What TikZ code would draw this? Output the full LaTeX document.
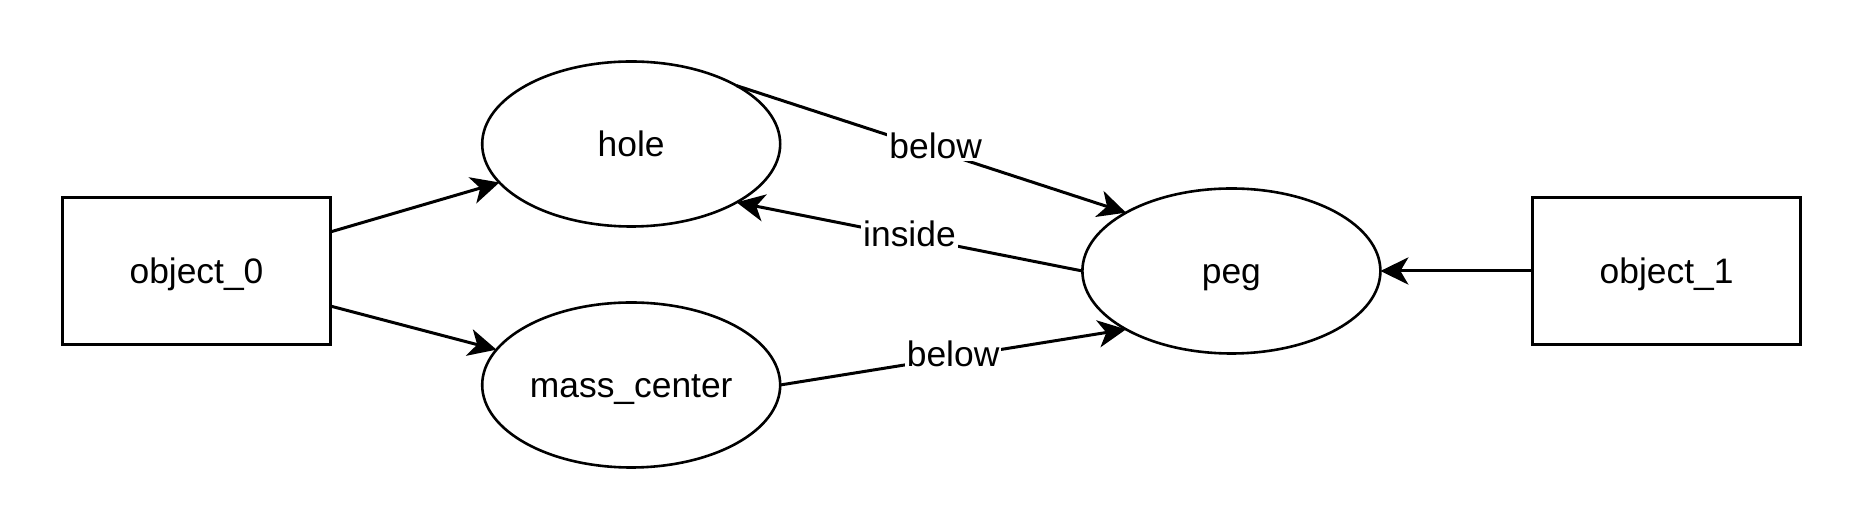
\documentclass[tikz,border=0pt]{standalone}
\usepackage{fontspec}
\setmainfont{Liberation Sans}
\usetikzlibrary{shapes.geometric,arrows.meta,positioning}

\begin{document}
\begin{tikzpicture}[
    font=\fontsize{17.7pt}{21pt}\selectfont,
    objbox/.style={rectangle, draw, line width=1.5pt, outer sep=0pt, text height=13pt, text depth=0pt, minimum width=134pt, minimum height=73.8pt},
    concept/.style={ellipse, draw, line width=1.3pt, inner sep=0pt, outer sep=0pt, text height=13pt, text depth=0pt, minimum width=149pt, minimum height=82.5pt},
    rel/.style={-{Stealth[length=14pt, width=13.6pt, inset=4pt]}, line width=1.5pt},
    lbl/.style={fill=white, inner sep=1pt, text height=13pt, text depth=0pt, yshift=1.7pt}
]

\useasboundingbox (-98.25pt,-128.5pt) rectangle (833.25pt,135.5pt);

\node[objbox] (obj0) {object\_0};
\node[concept, right=75.85pt of obj0, yshift=63.5pt] (hole) {hole};
\node[concept, below=38pt of hole] (masscenter) {mass\_center};
\node[concept, right=375.95pt of obj0] (peg) {peg};
\node[objbox, right=76.1pt of peg] (obj1) {object\_1};

\draw[rel] (obj0) -- (hole);
\draw[rel] (obj0) -- (masscenter);
\draw[rel] (hole.north east) -- node[lbl, xshift=2.2pt] {below} (peg.north west);
\draw[rel] (peg.west) -- node[lbl] {inside} (hole.south east);
\draw[rel] (masscenter.east) -- node[lbl] {below} (peg.south west);
\draw[rel] (obj1) -- (peg);

\end{tikzpicture}
\end{document}
